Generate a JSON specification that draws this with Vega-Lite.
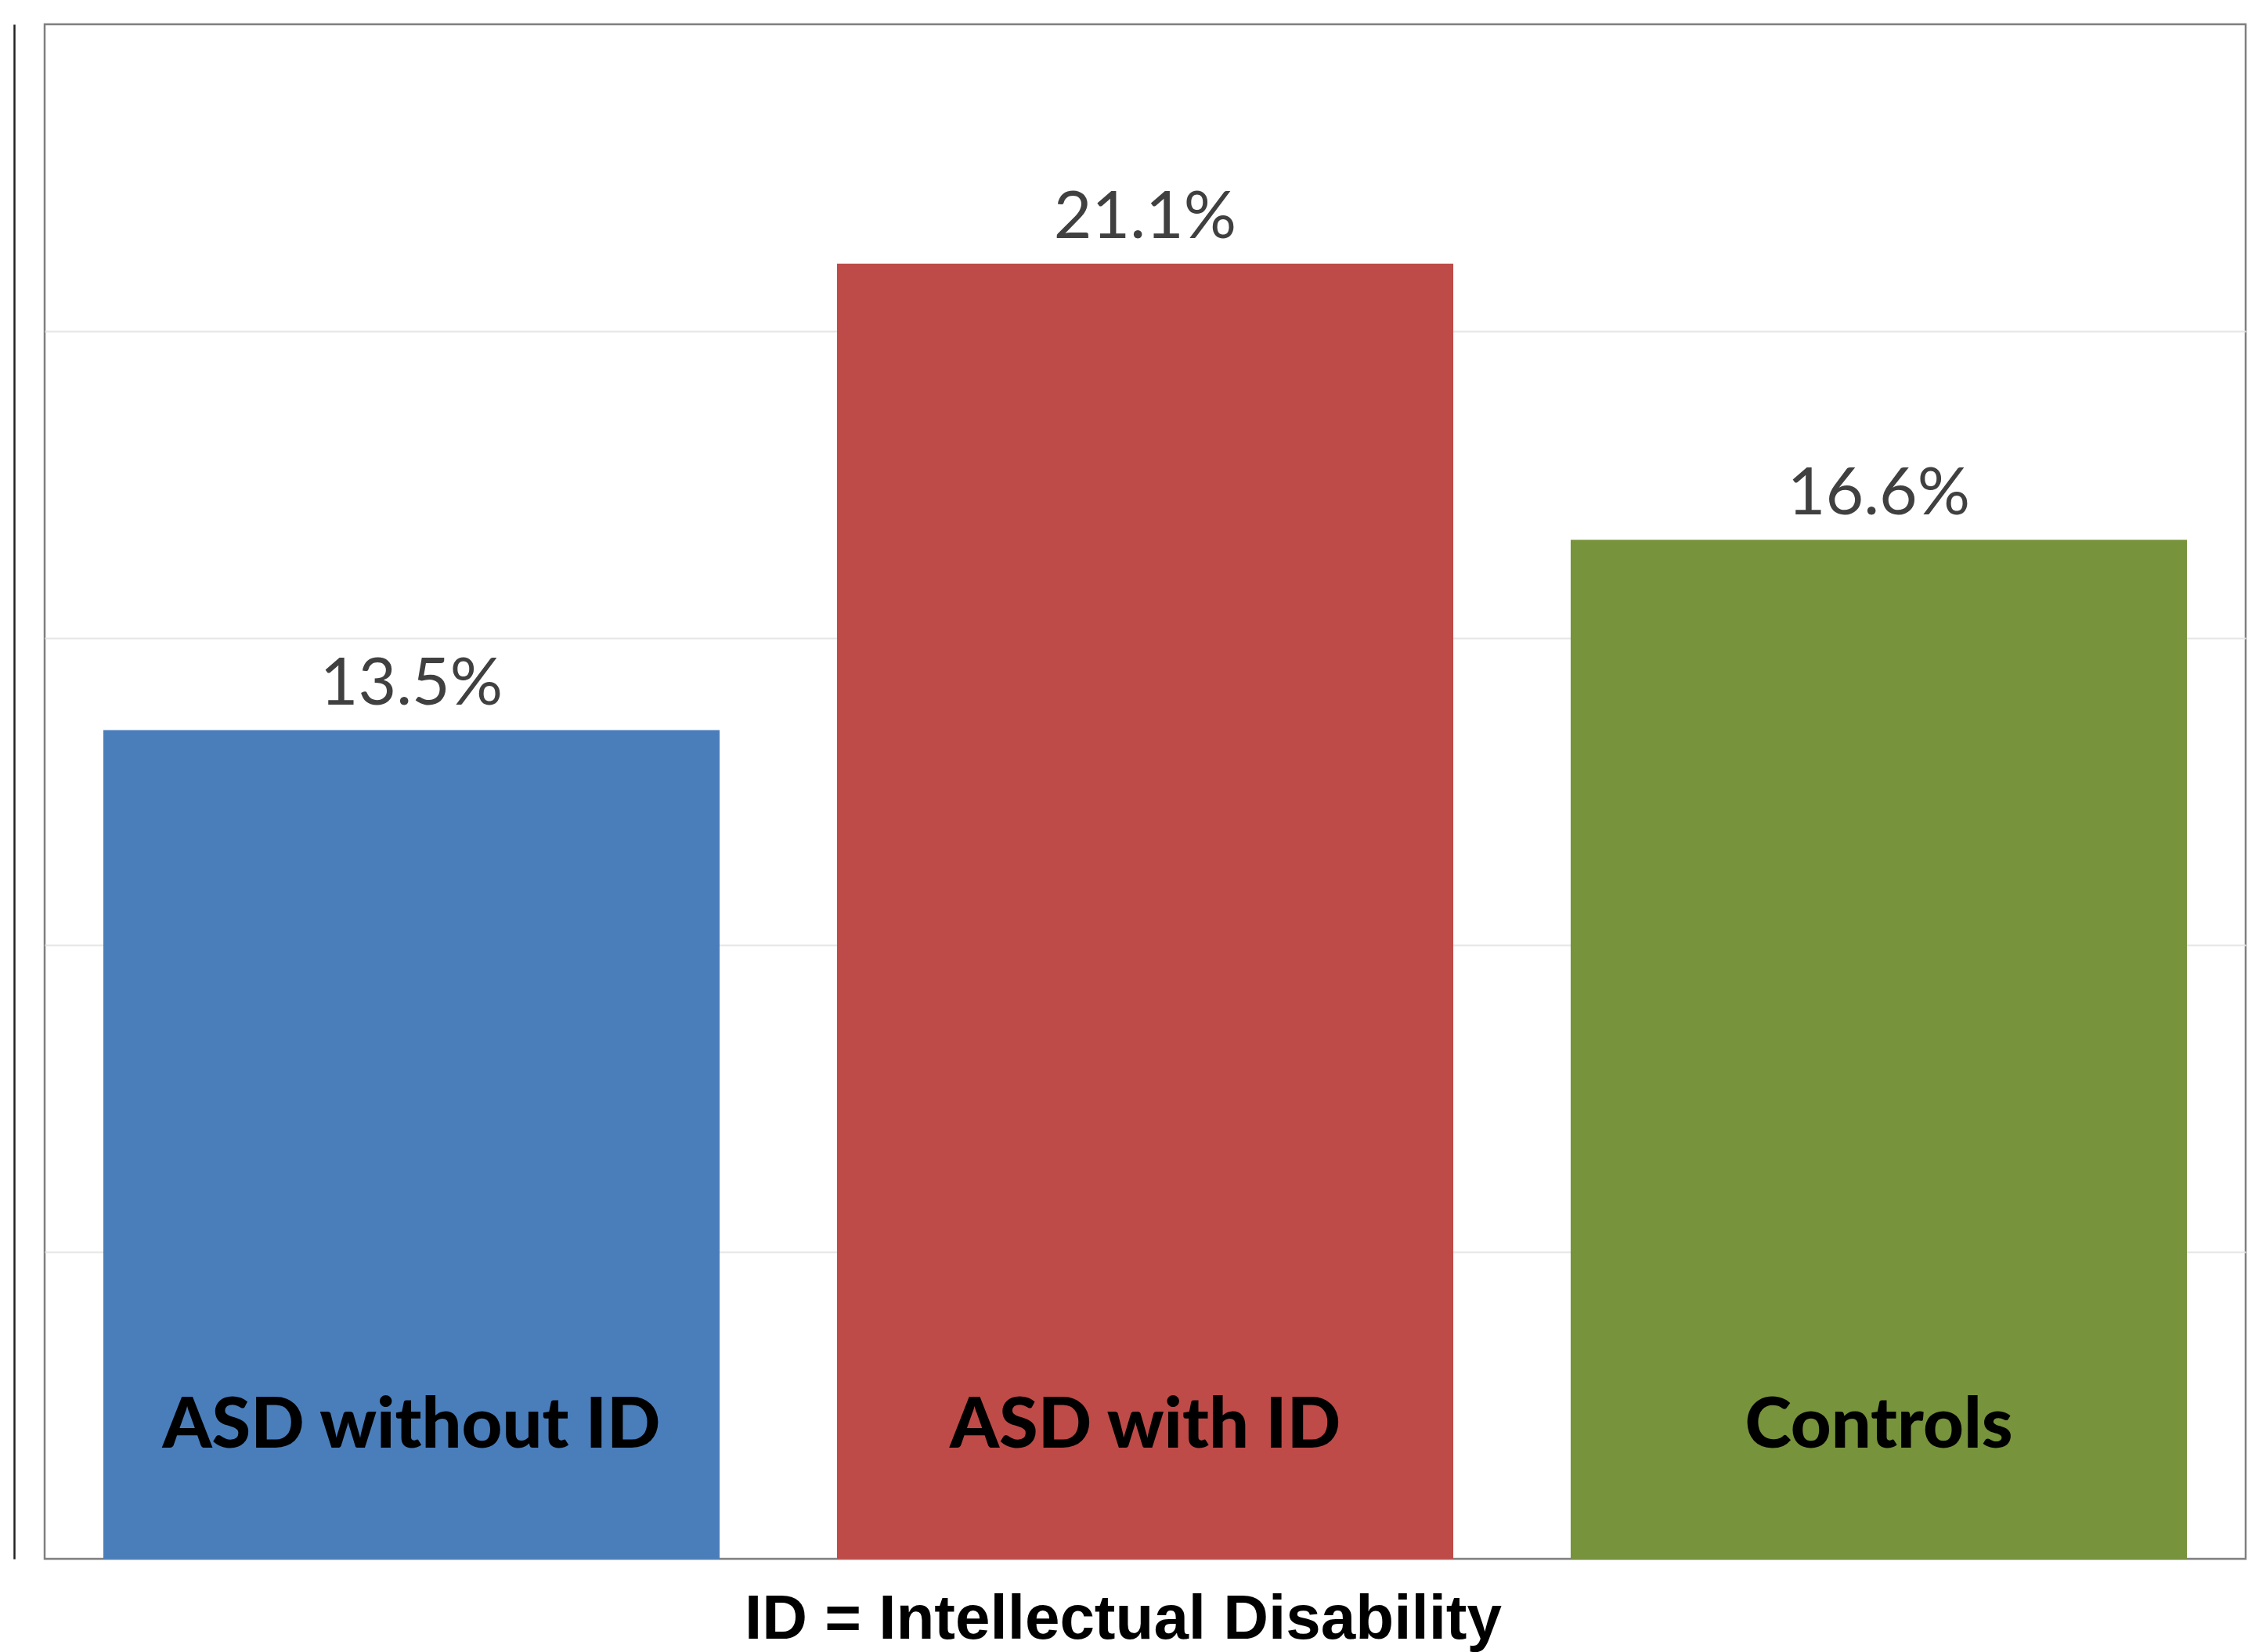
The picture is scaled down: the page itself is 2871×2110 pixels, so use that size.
{
  "$schema": "https://vega.github.io/schema/vega-lite/v6.json",
  "autosize": {"type": "none"},
  "width": 2811,
  "height": 1960,
  "padding": {"left": 57, "top": 31, "right": 3, "bottom": 119},
  "background": "white",
  "config": {
    "view": {"stroke": "#7f7f7f", "strokeWidth": 2.5}
  },
  "data": {
    "values": [
      {"group": "ASD without ID", "pct": 13.5, "label": "13.5%"},
      {"group": "ASD with ID", "pct": 21.1, "label": "21.1%"},
      {"group": "Controls", "pct": 16.6, "label": "16.6%"}
    ]
  },
  "encoding": {
    "x": {
      "field": "group",
      "type": "nominal",
      "sort": null,
      "scale": {"paddingInner": 0.16, "paddingOuter": 0.08},
      "axis": {
        "title": "ID = Intellectual Disability",
        "titleFont": "Liberation Sans",
        "titleFontWeight": "bold",
        "titleFontSize": 80,
        "titleColor": "#000000",
        "titleBaseline": "alphabetic",
        "titlePadding": 101,
        "titleX": 1377,
        "titleAnchor": "middle",
        "labels": false,
        "ticks": false,
        "domain": false
      }
    }
  },
  "layer": [
    {
      "mark": {"type": "bar"},
      "encoding": {
        "y": {
          "field": "pct",
          "type": "quantitative",
          "scale": {"domain": [0, 25], "nice": false},
          "axis": {
            "title": null,
            "labels": false,
            "ticks": false,
            "values": [5, 10, 15, 20],
            "grid": true,
            "gridColor": "#e6e6e6",
            "gridWidth": 2,
            "domain": true,
            "domainColor": "#222222",
            "domainWidth": 2.5,
            "offset": 39
          }
        },
        "color": {
          "field": "group",
          "type": "nominal",
          "scale": {
            "domain": ["ASD without ID", "ASD with ID", "Controls"],
            "range": ["#4A7EBB", "#BE4B48", "#77933C"]
          },
          "legend": null
        }
      }
    },
    {
      "mark": {
        "type": "text",
        "font": "Lato",
        "fontSize": 84,
        "color": "#404040",
        "baseline": "alphabetic",
        "align": "center",
        "dy": -33
      },
      "encoding": {
        "y": {"field": "pct", "type": "quantitative"},
        "text": {"field": "label"}
      }
    },
    {
      "mark": {
        "type": "text",
        "font": "Lato",
        "fontWeight": 900,
        "fontSize": 90,
        "color": "#000000",
        "baseline": "alphabetic",
        "align": "center"
      },
      "encoding": {
        "y": {"datum": 1.81, "type": "quantitative"},
        "text": {"field": "group"}
      }
    }
  ]
}
